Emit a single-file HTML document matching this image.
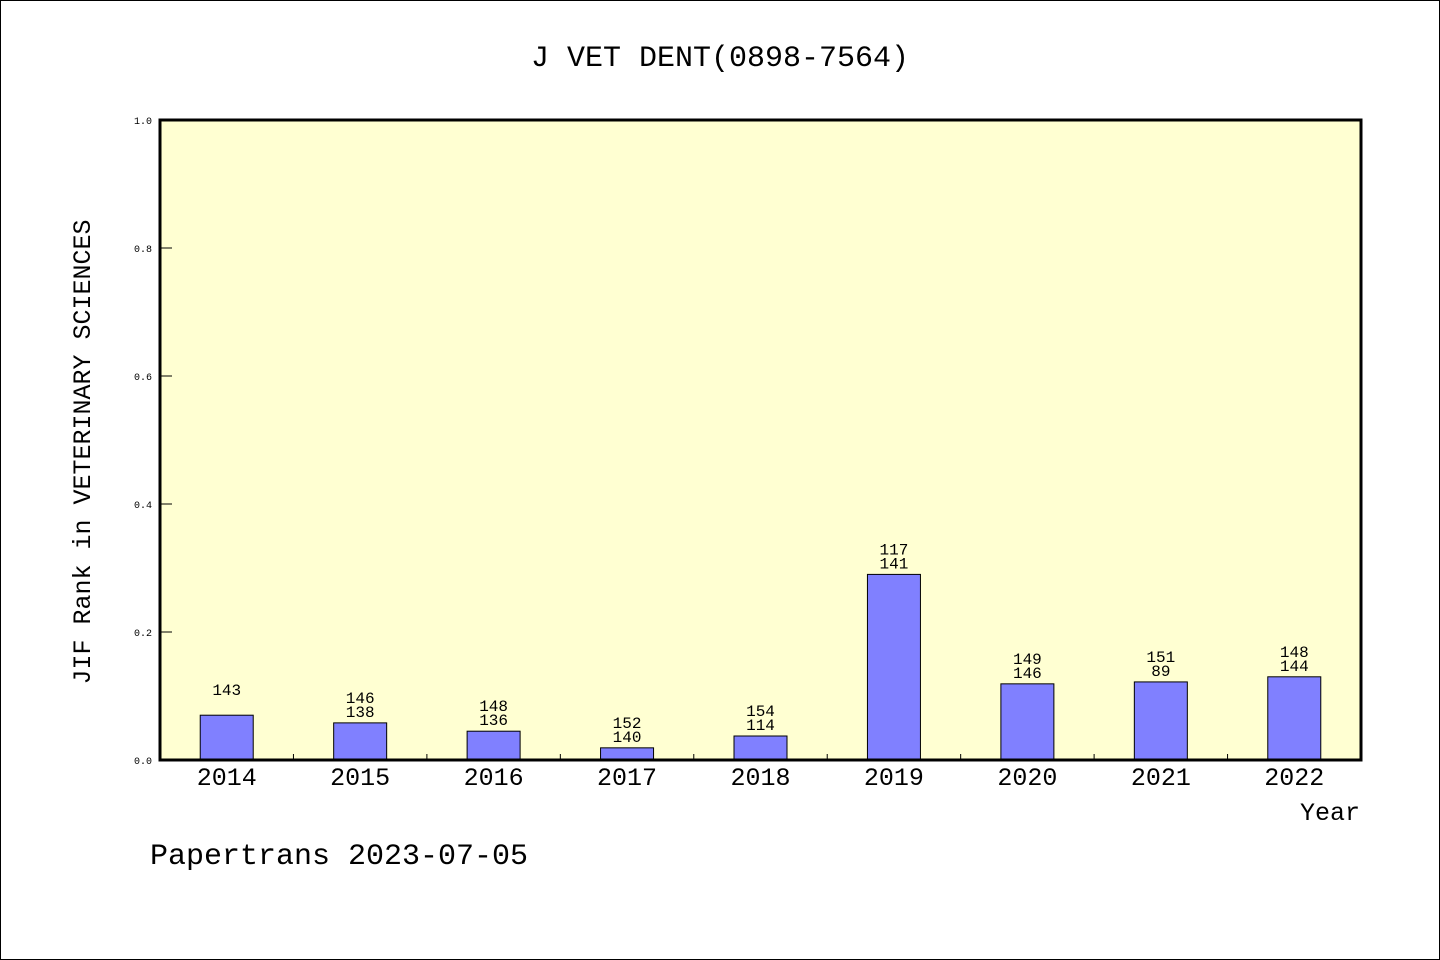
<!DOCTYPE html>
<html><head><meta charset="utf-8"><style>
html,body{margin:0;padding:0;background:#fff}
svg{display:block}
text{font-family:"WenQuanYi Zen Hei","Liberation Mono",monospace;fill:#000}
</style></head><body>
<svg id="chart" width="1440" height="960">
<rect x="0.5" y="0.5" width="1439" height="959" fill="#fff" stroke="#000"/>
<text x="720" y="66" font-size="30" text-anchor="middle">J VET DENT(0898-7564)</text>
<rect x="160" y="120" width="1201" height="640" fill="#ffffd2"/>
<g id="marks"></g>
<rect x="160" y="120" width="1201" height="640" fill="none" stroke="#000" stroke-width="3"/>
<text transform="translate(90,452) rotate(-90)" font-size="25" text-anchor="middle">JIF Rank in VETERINARY SCIENCES</text>
<text x="1360" y="820" font-size="25" text-anchor="end">Year</text>
<text x="150" y="864" font-size="30">Papertrans 2023-07-05</text>
</svg>
<script>
const years=["2014","2015","2016","2017","2018","2019","2020","2021","2022"];
const values=[0.070,0.058,0.045,0.019,0.0375,0.290,0.119,0.122,0.130];
const labelTop=["143","146","148","152","154","117","149","151","148"];
const labelBottom=["","138","136","140","114","141","146","89","144"];
const yTicks=[0,0.2,0.4,0.6,0.8,1.0];
const X0=160,X1=1361,Y0=760,Y1=120;
const band=(X1-X0)/years.length;
const xc=i=>X0+band*(i+0.5);
const y=v=>Y0-(Y0-Y1)*v;
const NS="http://www.w3.org/2000/svg";
const g=document.getElementById('marks');
function mk(t,a){const e=document.createElementNS(NS,t);for(const k in a)e.setAttribute(k,a[k]);g.appendChild(e);return e;}
yTicks.forEach(t=>{
  const l=mk('line',{x1:X0,x2:X0+12,y1:y(t),y2:y(t),stroke:'#000','stroke-width':1});
  
  
  const tx=mk('text',{x:X0-8,y:y(t)+4,'font-size':10,'text-anchor':'end'});
  tx.textContent=t.toFixed(1);
  
  
});
for(let i=1;i<years.length;i++){
  const l=mk('line',{x1:X0+band*i,x2:X0+band*i,y1:Y0,y2:Y0-6,stroke:'#000','stroke-width':1});
  
  
}
years.forEach((yr,i)=>{
  const bw=53,top=y(values[i]);
  const r=mk('rect',{x:xc(i)-bw/2,y:top,width:bw,height:Y0-top,fill:'#8080ff',stroke:'#000','stroke-width':1});
  
  
  const xl=mk('text',{x:xc(i),y:Y0+25,'font-size':25,'text-anchor':'middle'});
  xl.textContent=yr;
  
  
  if(labelBottom[i]){
    const b=mk('text',{x:xc(i),y:top-6,'font-size':16,'text-anchor':'middle'});
    b.textContent=labelBottom[i];
    
    
    const t=mk('text',{x:xc(i),y:top-20,'font-size':16,'text-anchor':'middle'});
    t.textContent=labelTop[i];
    
    
  } else {
    const t=mk('text',{x:xc(i),y:top-20,'font-size':16,'text-anchor':'middle'});
    t.textContent=labelTop[i];
    
    
  }
});
</script>
</body></html>
